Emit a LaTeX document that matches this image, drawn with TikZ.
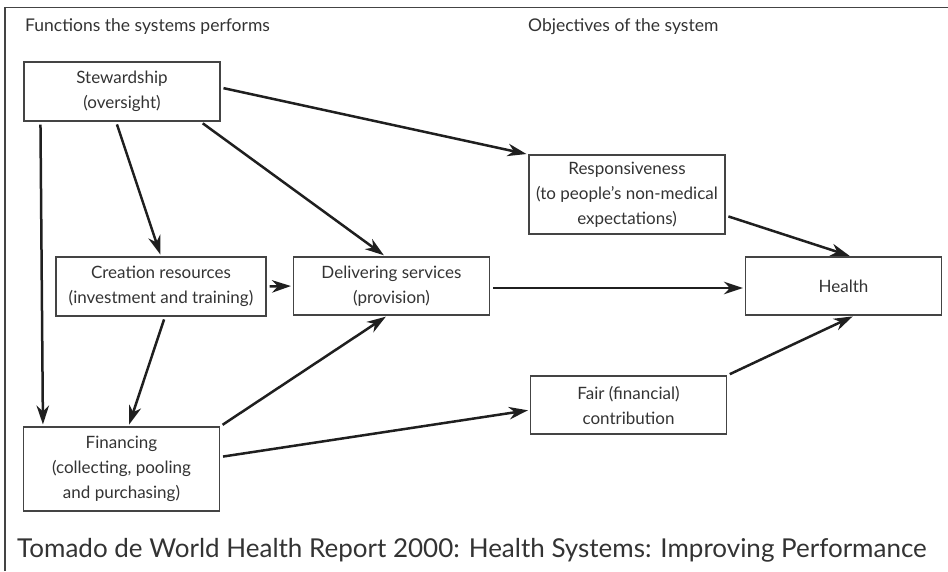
\documentclass[tikz,border=0pt]{standalone}
\usepackage{fontspec}
\setmainfont{Lato}
\usetikzlibrary{arrows.meta}
\definecolor{txtgray}{HTML}{333333}
\definecolor{boxgray}{HTML}{444444}

\begin{document}
\begin{tikzpicture}[x=1pt, y=-1pt,
    box/.style={draw=boxgray, line width=1.1pt, text=txtgray, align=center,
        inner sep=2pt, minimum width=196pt, minimum height=58pt,
        font=\fontsize{17}{25}\selectfont},
    arr/.style={line width=2.5pt, draw=black!88,
        -{Stealth[length=19pt, width=12.5pt, inset=6pt]},
        shorten <=3pt, shorten >=2pt},
    heading/.style={anchor=base west, text=txtgray, inner sep=0pt,
        font=\fontsize{17.5}{20}\selectfont}
]
    \useasboundingbox (0,0) rectangle (948,571);
    \draw[boxgray, line width=1.5pt] (5,571) -- (5,7.5) -- (948,7.5);

    % column headings
    \node[heading] (funcs) at (25,31) {Functions the systems performs};
    \node[heading] (objs) at (528,31) {Objectives of the system};

    % functions
    \node[box, minimum height=59pt] (stw) at (122,91.5) {Stewardship\\(oversight)};
    \node[box, minimum width=210pt, minimum height=59pt] (cre) at (161,286.5)
        {Creation resources\\(investment and training)};
    \node[box] (del) at (391.5,286) {Delivering services\\(provision)};
    \node[box, minimum height=84pt] (fin) at (121.5,469)
        {Financing\\(collecting, pooling\\and purchasing)};

    % objectives
    \node[box, minimum height=79pt] (resp) at (627,194.5)
        {Responsiveness\\(to people's non-medical\\expectations)};
    \node[box] (health) at (843.5,286) {Health};
    \node[box] (fair) at (628.5,405) {Fair (financial)\\contribution};

    % links
    \draw[arr] ([yshift=4pt]stw.east) -- (resp.north west);
    \draw[arr] (stw.-21.5) -- ([xshift=-6pt]del.north);
    \draw[arr] ([xshift=-6pt]stw.south) -- (cre.north);
    \draw[arr] ([xshift=17pt]stw.south west) -- ([xshift=20pt]fin.north west);
    \draw[arr] (cre.east) -- (del.west);
    \draw[arr] ([xshift=4pt]cre.south) -- ([xshift=7pt]fin.north);
    \draw[arr] (fin.north east) -- ([xshift=-4pt]del.south);
    \draw[arr] ([yshift=12pt]fin.east) -- ([yshift=-5pt]fair.west);
    \draw[arr] ([yshift=-2pt]del.east) -- ([yshift=-2pt]health.west);
    \draw[arr] ([yshift=-21pt]resp.east) -- ([xshift=8pt]health.north);
    \draw[arr] (fair.north east) -- ([xshift=11pt]health.south);

    \node[anchor=base west, text=txtgray, inner sep=0pt,
        font=\fontsize{26}{30}\selectfont] (src) at (17,557)
        {Tomado de World Health Report 2000: Health Systems: Improving Performance};
\end{tikzpicture}
\end{document}
